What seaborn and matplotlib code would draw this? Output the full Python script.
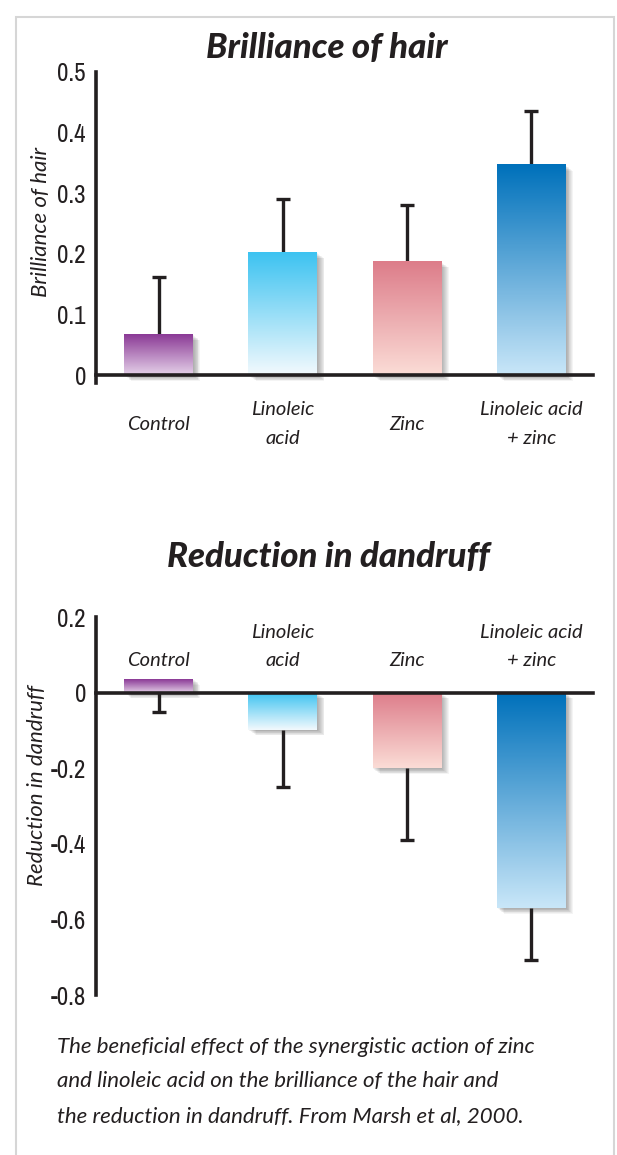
import numpy as np
import pandas as pd
import seaborn as sns
import matplotlib.pyplot as plt
from matplotlib import font_manager
from matplotlib.colors import LinearSegmentedColormap
from matplotlib.patches import Rectangle
from matplotlib.ticker import FuncFormatter
from matplotlib.transforms import ScaledTranslation

categories = ["Control", "Linoleic\nacid", "Zinc", "Linoleic acid\n+ zinc"]
brilliance = [0.067, 0.202, 0.187, 0.346]
brilliance_err = [0.095, 0.089, 0.093, 0.090]
dandruff = [0.037, -0.098, -0.200, -0.570]
dandruff_err = [0.087, 0.152, 0.190, 0.138]
brilliance_ticks = [0, 0.1, 0.2, 0.3, 0.4, 0.5]
dandruff_ticks = [0.2, 0, -0.2, -0.4, -0.6, -0.8]
top_colors = ["#8b3a96", "#3dc3f1", "#dd7d8a", "#0071bb"]
bottom_colors = ["#e4d0e8", "#f2f9fd", "#fbdcd6", "#c8e6f8"]
caption = ("The beneficial effect of the synergistic action of zinc\n"
           "and linoleic acid on the brilliance of the hair and\n"
           "the reduction in dandruff. From Marsh et al, 2000.")

ink = "#231f20"
sns.set_style("white")

# a condensed face for the tick numbers, if there is one
narrow, stretch = "Roboto", "normal"
for f in font_manager.fontManager.ttflist:
    if "Narrow" in f.name or "Condensed" in f.name:
        narrow, stretch = f.name, "normal"
        break
    if str(f.stretch) in ("condensed", "semi-condensed") and f.style == "normal":
        narrow, stretch = f.name, "condensed"
plt.rcParams['font.family'] = ['Lato', 'DejaVu Sans']

fig = plt.figure(figsize=(6.17, 11.55), dpi=100)
fig.patch.set_facecolor("white")
fig.patches.append(Rectangle((16 / 617, -0.01), (614 - 16) / 617, 1.0057 - 0.01,
                             transform=fig.transFigure, fill=False,
                             edgecolor="#d6d6d6", lw=1.5))

ax1 = fig.add_axes([0.1562, 0.6684, 0.8057, 0.2695])
ax2 = fig.add_axes([0.1562, 0.1385, 0.8057, 0.3270])

df1 = pd.DataFrame({"cat": categories, "val": brilliance})
df2 = pd.DataFrame({"cat": categories, "val": dandruff})
sns.barplot(data=df1, x="cat", y="val", hue="cat", palette=top_colors, legend=False,
            width=0.555, ax=ax1)
sns.barplot(data=df2, x="cat", y="val", hue="cat", palette=top_colors, legend=False,
            width=0.555, ax=ax2)


def style_bars(ax):
    for i, p in enumerate(ax.patches):
        x0, w = p.get_x(), p.get_width()
        y0, h = p.get_y(), p.get_height()
        ylo, yhi = min(y0, y0 + h), max(y0, y0 + h)
        # soft drop shadow
        for d in range(1, 9):
            off = ScaledTranslation(d * 0.9 / 100, -d * 0.7 / 100, fig.dpi_scale_trans)
            sh = Rectangle((x0, ylo), w, yhi - ylo, transform=ax.transData + off,
                           facecolor="#000000", edgecolor="none", alpha=0.045, zorder=1.2)
            ax.add_patch(sh)
        cmap = LinearSegmentedColormap.from_list("g", [bottom_colors[i], top_colors[i]])
        grad = np.linspace(1, 0, 100).reshape(-1, 1)
        ax.imshow(grad, extent=[x0, x0 + w, ylo, yhi], aspect="auto", cmap=cmap,
                  vmin=0, vmax=1, zorder=2, interpolation="bilinear")
        p.set_visible(False)


style_bars(ax1)
style_bars(ax2)

# one-sided error bars
eb1 = ax1.errorbar(range(4), brilliance, yerr=[[0] * 4, brilliance_err], fmt="none",
                   ecolor=ink, elinewidth=2.4, capsize=5, capthick=2.4, zorder=1.8)
eb1[1][0].set_visible(False)
eb2 = ax2.errorbar(range(4), dandruff, yerr=[dandruff_err, [0] * 4], fmt="none",
                   ecolor=ink, elinewidth=2.4, capsize=5, capthick=2.4, zorder=1.8)
eb2[1][1].set_visible(False)

fmt = FuncFormatter(lambda v, pos: "0" if abs(v) < 1e-9 else f"{v:g}")

ax1.set_ylim(-0.0125, 0.5)
ax1.set_yticks(brilliance_ticks)
ax2.set_ylim(-0.8, 0.2)
ax2.set_yticks(dandruff_ticks)

for ax in (ax1, ax2):
    ax.set_xlim(-0.5, 3.5)
    ax.set_facecolor("none")
    for s in ("top", "right"):
        ax.spines[s].set_visible(False)
    for s in ("left", "bottom"):
        ax.spines[s].set_color(ink)
        ax.spines[s].set_linewidth(2.6)
        ax.spines[s].set_zorder(3)
    ax.spines["bottom"].set_position(("data", 0))
    ax.yaxis.set_major_formatter(fmt)
    ax.tick_params(axis="y", which="major", direction="out", length=5.5, width=2,
                   color=ink, pad=2, labelsize=18, labelcolor=ink,
                   labelfontfamily=narrow)
    for t in ax.get_yticklabels():
        t.set_fontweight("bold" if narrow != "Roboto" else "medium")
        t.set_fontstretch(stretch)
    ax.set_xticks([0.5, 1.5, 2.5, 3.5], minor=True)
    ax.set_xlabel("")

ax1.set_xticks(range(4), labels=categories)
ax1.tick_params(axis="x", which="major", length=0, pad=35, labelsize=14.5, labelcolor=ink)
ax1.tick_params(axis="x", which="minor", direction="in", length=2.2, width=1.8, color=ink)
for t in ax1.get_xticklabels():
    t.set_va("center")
    t.set_style("italic")
    t.set_linespacing(1.85)
ax1.set_ylabel("Brilliance of hair", fontsize=16, style="italic", color=ink)
ax1.yaxis.label.set_va("center")
ax1.yaxis.set_label_coords(-0.111, 0.518)

ax2.set_xticks(range(4), labels=[""] * 4)
ax2.tick_params(axis="x", which="major", length=0)
ax2.tick_params(axis="x", which="minor", direction="out", length=2.2, width=1.8, color=ink)
for i, lab in enumerate(categories):
    ax2.text(i, 0.062, lab, ha="center", va="bottom", fontsize=14.5, style="italic",
             color=ink, linespacing=1.85)
ax2.set_ylabel("Reduction in dandruff", fontsize=16, style="italic", color=ink)
ax2.yaxis.label.set_va("center")
ax2.yaxis.set_label_coords(-0.119, 0.556)

fig.text(327 / 617, 1 - 48 / 1155, "Brilliance of hair", ha="center", va="center",
         fontsize=25, fontweight="black", style="italic", color=ink)
fig.text(328.5 / 617, 1 - 557 / 1155, "Reduction in dandruff", ha="center", va="center",
         fontsize=25, fontweight="black", style="italic", color=ink)
fig.text(57 / 617, 1 - 1037 / 1155, caption, ha="left", va="top", fontsize=16,
         style="italic", color=ink, linespacing=1.9)

fig.savefig("out.png", dpi=100)
